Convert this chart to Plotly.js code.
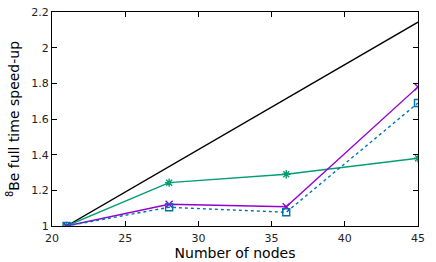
<!DOCTYPE html>
<html><head><meta charset="utf-8">
<script src="https://cdn.plot.ly/plotly-3.0.1.min.js"></script>
<style>body{margin:0;padding:0;background:#fff}#c{width:436px;height:262px}</style>
</head><body><div id="c"></div>
<script>
const nodes = [21, 28, 36, 45];
const ideal = [1, 1.3333, 1.7143, 2.1429];
const greenVals = [1, 1.243, 1.29, 1.38];
const purpleVals = [1, 1.122, 1.108, 1.78];
const blueVals = [1, 1.105, 1.077, 1.69];
const xTicks = [20, 25, 30, 35, 40, 45];
const yTicks = [1, 1.2, 1.4, 1.6, 1.8, 2, 2.2];
const yTickText = ['1', '1.2', '1.4', '1.6', '1.8', '2', '2.2'];

const traces = [
  {x: nodes, y: ideal, mode: 'lines', line: {color: '#000000', width: 1.4}},
  {x: nodes, y: greenVals, mode: 'lines+markers', line: {color: '#009e73', width: 1.4},
   marker: {symbol: 'asterisk-open', size: 7, color: '#009e73', line: {color: '#009e73', width: 1.4}}},
  {x: nodes, y: purpleVals, mode: 'lines+markers', line: {color: '#9400d3', width: 1.4},
   marker: {symbol: 'x-thin-open', size: 7, color: '#9400d3', line: {color: '#9400d3', width: 1.4}}},
  {x: nodes, y: blueVals, mode: 'lines+markers', line: {color: '#0072b2', width: 1.4, dash: 'dot'},
   marker: {symbol: 'square-open', size: 7, color: '#0072b2', line: {color: '#0072b2', width: 1.4}}}
];

const axisCommon = {
  showgrid: false, zeroline: false, showline: true, mirror: 'allticks',
  linecolor: '#000', linewidth: 1, ticks: 'inside', ticklen: 5, tickcolor: '#000',
  tickfont: {family: 'DejaVu Sans', size: 11, color: '#222'}
};

const layout = {
  width: 436, height: 262,
  margin: {l: 52, r: 18, t: 12, b: 36},
  showlegend: false,
  paper_bgcolor: '#fff', plot_bgcolor: '#fff',
  xaxis: Object.assign({}, axisCommon, {
    range: [20, 45], tickvals: xTicks, ticklabelstandoff: 2,
    title: {text: 'Number of nodes', font: {family: 'DejaVu Sans', size: 14, color: '#000'}, standoff: 1}
  }),
  yaxis: Object.assign({}, axisCommon, {
    range: [1, 2.2], tickvals: yTicks, ticktext: yTickText,
    title: {text: '<sup>8</sup>Be full time speed-up', font: {family: 'DejaVu Sans', size: 14, color: '#000'}, standoff: 8}
  })
};

Plotly.newPlot('c', traces, layout, {displayModeBar: false, staticPlot: true});
</script>
</body></html>
